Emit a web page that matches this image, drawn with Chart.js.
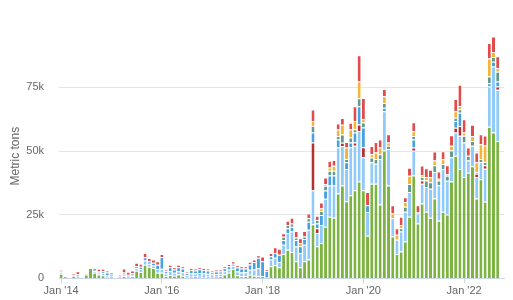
<!DOCTYPE html>
<html>
<head>
<meta charset="utf-8">
<script src="https://cdn.jsdelivr.net/npm/chart.js@4.4.0/dist/chart.umd.min.js"></script>
<style>
  body { margin: 0; background: #fff; }
  .wrap { width: 513px; height: 300px; position: relative; }
</style>
</head>
<body>
<div class="wrap"><canvas id="imports"></canvas></div>
<script>
// monthly tonnage, Jan 2014 - Oct 2022, one row per year
const green = [
  1800, 700, 0, 1000, 600, 400, 1500, 4100, 2200, 1500, 1200, 300,
  200, 0, 300, 900, 600, 800, 3000, 2500, 5400, 4600, 4100, 2200,
  2200, 900, 1300, 1000, 1500, 1000, 500, 600, 700, 600, 500, 600,
  500, 600, 800, 1500, 2200, 3700, 1200, 800, 900, 1400, 1000, 800,
  900, 500, 4800, 5200, 4400, 9600, 11300, 10400, 6700, 4400, 6700, 7400,
  21300, 12600, 13900, 20300, 24200, 23800, 33300, 36500, 30300, 32700, 34600, 38100,
  34600, 16800, 37200, 37200, 29000, 50200, 36500, 16500, 9600, 10600, 14500, 24200,
  40400, 21600, 29400, 26200, 23800, 31400, 22600, 26200, 25100, 38100, 48200, 43000,
  39800, 41500, 44100, 31400, 38900, 30100, 59600, 57300, 54000, null
];
const lightBlue = [
  600, 0, 0, 0, 400, 0, 0, 0, 700, 800, 900, 800,
  800, 0, 0, 600, 400, 600, 1000, 1200, 1600, 1200, 1000, 1500,
  1600, 1000, 1600, 1200, 1300, 1400, 800, 1300, 1200, 1500, 1400, 1200,
  1000, 1100, 1000, 1300, 1300, 1300, 1500, 1500, 1500, 2000, 2500, 3200,
  0, 0, 2600, 2900, 2000, 3600, 6500, 8000, 5800, 5600, 6500, 11700,
  13300, 5200, 7100, 11000, 12300, 12700, 18100, 15500, 12700, 18800, 17500, 19800,
  13000, 9300, 8400, 7800, 17900, 15500, 14300, 7100, 5600, 7800, 11700, 9700,
  9700, 3900, 7800, 9700, 11400, 10400, 14000, 16800, 13300, 9500, 9100, 13000,
  13600, 4800, 8000, 8400, 6700, 13000, 15800, 25900, 20100, null
];
const darkRed = [
  0, 0, 0, 0, 0, 0, 0, 0, 0, 0, 0, 0,
  0, 0, 0, 0, 0, 0, 0, 0, 0, 0, 0, 0,
  0, 0, 0, 0, 0, 0, 0, 0, 0, 0, 0, 0,
  0, 0, 0, 0, 0, 0, 0, 0, 0, 0, 0, 0,
  0, 0, 0, 0, 0, 0, 0, 0, 0, 0, 0, 0,
  18800, 1900, 0, 0, 0, 0, 0, 1300, 0, 0, 1300, 2600,
  3900, 0, 0, 0, 0, 0, 0, 0, 0, 0, 0, 0,
  1300, 0, 1300, 0, 0, 0, 0, 0, 0, 0, 1900, 3900,
  0, 0, 0, 1300, 0, 1300, 0, 0, 1300, null
];
const blue = [
  300, 0, 0, 300, 700, 0, 0, 0, 400, 600, 700, 1200,
  800, 0, 400, 800, 400, 600, 800, 900, 1300, 900, 1000, 1700,
  4600, 900, 1500, 1300, 1600, 1500, 800, 1400, 1200, 1500, 1400, 1300,
  900, 1000, 900, 1200, 1300, 800, 1600, 1600, 1500, 2100, 2900, 4100,
  5800, 2400, 1300, 1900, 2900, 1900, 1900, 1900, 2600, 2600, 2300, 3200,
  3900, 1900, 3900, 3200, 3900, 3900, 3200, 0, 2600, 1900, 3900, 7100,
  7800, 2600, 0, 0, 0, 1300, 0, 0, 0, 0, 0, 0,
  3200, 0, 0, 0, 0, 0, 0, 0, 0, 0, 2600, 5200,
  0, 0, 0, 0, 0, 0, 1300, 1900, 1900, null
];
const teal = [
  0, 0, 0, 0, 0, 0, 0, 0, 0, 0, 0, 0,
  0, 0, 0, 0, 0, 0, 0, 0, 0, 0, 0, 0,
  0, 0, 0, 0, 0, 0, 0, 0, 0, 0, 0, 0,
  0, 0, 0, 0, 0, 0, 0, 0, 0, 0, 0, 0,
  0, 0, 0, 0, 0, 1300, 1300, 1300, 1000, 0, 1000, 1300,
  2600, 1300, 1600, 1900, 1900, 1900, 1300, 3200, 1300, 1900, 1300, 3200,
  1900, 0, 1900, 1900, 1900, 1900, 1300, 0, 0, 1300, 1900, 3200,
  1300, 600, 1300, 2600, 2600, 2600, 1900, 1900, 1900, 2600, 1300, 1300,
  2600, 1900, 1900, 600, 1300, 1300, 2600, 1900, 3900, null
];
const orange = [
  0, 0, 0, 0, 0, 0, 0, 0, 0, 0, 0, 0,
  0, 0, 0, 0, 0, 0, 0, 0, 0, 0, 0, 0,
  0, 0, 0, 0, 0, 0, 0, 0, 0, 0, 0, 0,
  0, 0, 0, 0, 0, 0, 0, 0, 0, 0, 0, 0,
  0, 0, 0, 0, 0, 0, 0, 0, 0, 1300, 0, 0,
  1900, 0, 1000, 600, 1300, 1900, 2600, 3900, 4500, 3200, 3200, 6500,
  1300, 0, 1300, 2600, 2600, 2600, 1300, 1900, 1900, 1300, 1900, 3200,
  1900, 0, 600, 1300, 1900, 1900, 600, 1900, 600, 1900, 2600, 1300,
  1300, 0, 1900, 3900, 5800, 6500, 7100, 1900, 1300, null
];
const red = [
  700, 0, 0, 500, 1100, 0, 300, 0, 600, 900, 1000, 800,
  700, 0, 700, 1600, 1200, 1100, 1300, 1200, 1700, 1300, 1300, 1300,
  1200, 700, 1000, 900, 1000, 900, 500, 800, 800, 800, 800, 800,
  700, 800, 800, 800, 900, 900, 900, 900, 900, 1000, 1000, 1000,
  1900, 600, 1300, 2200, 2300, 1300, 1600, 2200, 2500, 1900, 2100, 1900,
  4500, 1700, 2300, 2600, 2600, 2300, 2300, 2600, 2200, 2600, 5800, 10400,
  8400, 5200, 3200, 4100, 3200, 2900, 3200, 3200, 2600, 3200, 1900, 3200,
  3500, 2600, 3900, 3500, 3000, 3500, 2900, 3100, 3500, 4100, 4800, 8400,
  5200, 3200, 4500, 3900, 3900, 3900, 6100, 6100, 4800, null
];

const yTicks = [0, 25000, 50000, 75000];

const monthNames = ['Jan', 'Feb', 'Mar', 'Apr', 'May', 'Jun', 'Jul', 'Aug', 'Sep', 'Oct', 'Nov', 'Dec'];
const months = [];
for (let y = 2014; y <= 2022; y++) {
  for (let m = 0; m < 12; m++) {
    if (y === 2022 && m > 9) break;
    months.push(monthNames[m] + " '" + String(y).slice(2));
  }
}

const series = [
  { label: 'green', data: green, color: '#7cb342' },
  { label: 'light blue', data: lightBlue, color: '#90caf9' },
  { label: 'dark red', data: darkRed, color: '#b5312f' },
  { label: 'blue', data: blue, color: '#45a1df' },
  { label: 'teal', data: teal, color: '#65998a' },
  { label: 'orange', data: orange, color: '#f2b53a' },
  { label: 'red', data: red, color: '#e14b4b' }
];

Chart.defaults.font.family = "'Liberation Sans', Arial, sans-serif";

new Chart(document.getElementById('imports'), {
  type: 'bar',
  data: {
    labels: months,
    datasets: series.map(s => ({
      label: s.label,
      data: s.data,
      backgroundColor: s.color,
      borderColor: '#fff',
      borderWidth: { top: 1, bottom: 0, left: 0, right: 0 },
      categoryPercentage: 0.72,
      barPercentage: 1
    }))
  },
  options: {
    responsive: true,
    maintainAspectRatio: false,
    animation: false,
    layout: { padding: { top: 34, right: 9, left: 8, bottom: 0 } },
    plugins: {
      legend: { display: false },
      tooltip: { enabled: true }
    },
    scales: {
      x: {
        stacked: true,
        offset: true,
        grid: {
          offset: false,
          drawOnChartArea: false,
          tickLength: 5,
          color: ctx => (ctx.index % 24 === 0 ? '#ccd6eb' : 'rgba(0,0,0,0)')
        },
        border: { display: true, color: '#ccd6eb' },
        ticks: {
          autoSkip: false,
          maxRotation: 0,
          padding: 1,
          color: '#666',
          font: { size: 11 },
          callback: (v, i) => (i % 24 === 0 ? months[i] : '')
        },
        afterFit: s => { s.height = 19; }
      },
      y: {
        stacked: true,
        min: 0,
        max: 96000,
        afterBuildTicks: s => { s.ticks = yTicks.map(v => ({ value: v })); },
        ticks: {
          padding: 15,
          color: '#666',
          font: { size: 11 },
          callback: v => (v === 0 ? '0' : v / 1000 + 'k')
        },
        grid: { color: '#e6e6e6', drawTicks: false },
        border: { display: false },
        title: { display: true, text: 'Metric tons', color: '#666', font: { size: 12 }, padding: 0 },
        afterFit: s => { s.width = 51; }
      }
    }
  }
});
</script>
</body>
</html>
